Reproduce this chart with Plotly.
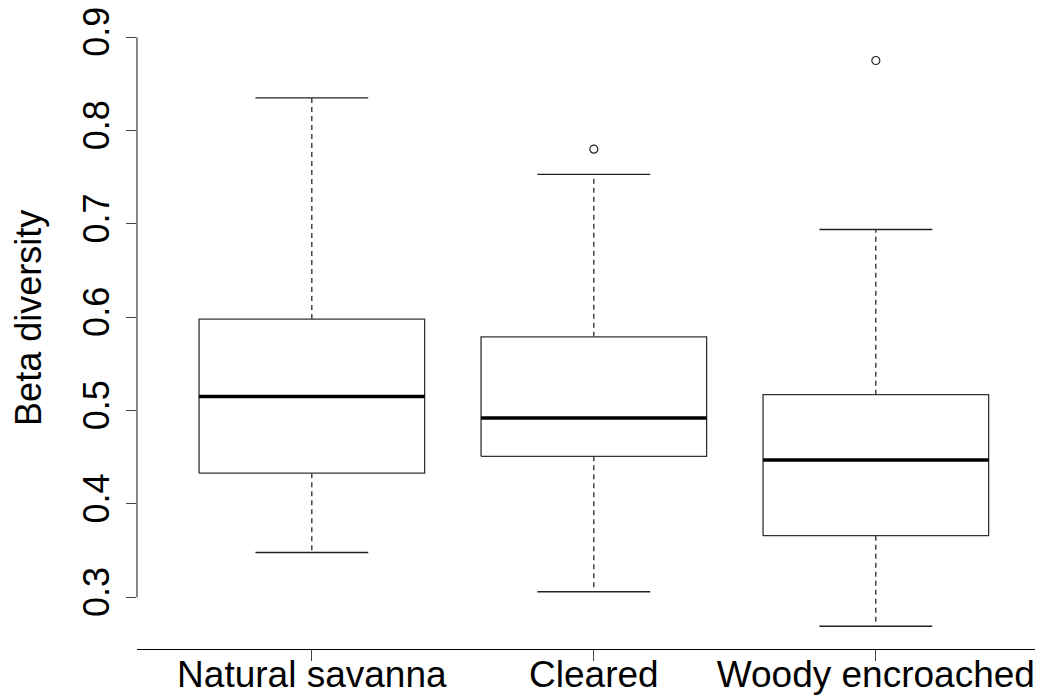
import plotly.graph_objects as go

categories = ["Natural savanna", "Cleared", "Woody encroached"]
q1 = [0.433, 0.451, 0.366]
median = [0.515, 0.492, 0.447]
q3 = [0.598, 0.579, 0.517]
lower_whisker = [0.348, 0.306, 0.269]
upper_whisker = [0.835, 0.753, 0.694]
outlier_group = [2, 3]
outlier_value = [0.780, 0.875]
y_ticks = [0.3, 0.4, 0.5, 0.6, 0.7, 0.8, 0.9]

FONT = "Liberation Sans, Arial, sans-serif"
BOX_HALF = 0.4
CAP_HALF = 0.2

fig = go.Figure()
for i, cat in enumerate(categories):
    xc = i + 1
    # dashed whiskers
    fig.add_trace(go.Scatter(x=[xc, xc, None, xc, xc],
                             y=[q3[i], upper_whisker[i], None, q1[i], lower_whisker[i]],
                             mode="lines", line=dict(color="black", width=1.1, dash="5px,4px"),
                             hoverinfo="skip", showlegend=False))
    # staples
    fig.add_trace(go.Scatter(x=[xc - CAP_HALF, xc + CAP_HALF, None, xc - CAP_HALF, xc + CAP_HALF],
                             y=[upper_whisker[i], upper_whisker[i], None, lower_whisker[i], lower_whisker[i]],
                             mode="lines", line=dict(color="#222222", width=1.4),
                             hoverinfo="skip", showlegend=False))
    # box
    fig.add_trace(go.Scatter(x=[xc - BOX_HALF, xc + BOX_HALF, xc + BOX_HALF, xc - BOX_HALF, xc - BOX_HALF],
                             y=[q1[i], q1[i], q3[i], q3[i], q1[i]],
                             mode="lines", fill="toself", fillcolor="white",
                             line=dict(color="#333333", width=1.3),
                             hoverinfo="skip", showlegend=False))
    # median
    fig.add_trace(go.Scatter(x=[xc - BOX_HALF, xc + BOX_HALF], y=[median[i], median[i]],
                             mode="lines", line=dict(color="black", width=3.5),
                             hoverinfo="skip", showlegend=False))

fig.add_trace(go.Scatter(x=outlier_group, y=outlier_value, mode="markers",
                         marker=dict(symbol="circle-open", size=8, color="#222222", line=dict(width=1.2)),
                         hoverinfo="skip", showlegend=False))

# page has an 8px body margin; size the figure to the visible area
OFF = 8
W, H = 1043 - OFF, 698 - OFF
left, top = 137 - OFF, 37 - OFF
bottom = H - (649 - OFF)
px_per_unit_x = 282.0
x0 = 0.38
x1 = x0 + (W - left) / px_per_unit_x

fig.update_layout(
    width=W, height=H,
    margin=dict(l=left, r=0, t=top, b=bottom, pad=0, autoexpand=False),
    plot_bgcolor="white", paper_bgcolor="white",
    font=dict(family=FONT, size=36, color="black"),
    xaxis=dict(range=[x0, x1], tickvals=[1, 2, 3], ticktext=categories, automargin=False,
               showgrid=False, zeroline=False, showline=True, linecolor="black", linewidth=1.3,
               ticks="outside", ticklen=11, tickcolor="#444444", tickwidth=1,
               ticklabelstandoff=-19, ticklabeloverflow="allow",
               tickfont=dict(family=FONT, size=37, color="black")),
    yaxis=dict(range=[0.2446, 0.9002], tickvals=y_ticks, ticktext=[f"{v:.1f}" for v in y_ticks],
               automargin=False,
               showgrid=False, zeroline=False, showline=False,
               ticks="outside", ticklen=10, tickcolor="#444444", tickwidth=1.3,
               tickangle=-90, ticklabelstandoff=3, ticklabeloverflow="allow",
               tickfont=dict(family=FONT, size=36, color="black")),
    shapes=[dict(type="line", xref="paper", yref="y", x0=0, x1=0, y0=y_ticks[0], y1=y_ticks[-1],
                 line=dict(color="#444444", width=1.3))],
    annotations=[dict(text="Beta diversity", xref="paper", yref="paper", x=0, y=0.541,
                      xanchor="center", yanchor="middle", xshift=-108, textangle=-90,
                      showarrow=False, font=dict(family=FONT, size=36, color="black"))],
)

fig.write_html("out.html")
